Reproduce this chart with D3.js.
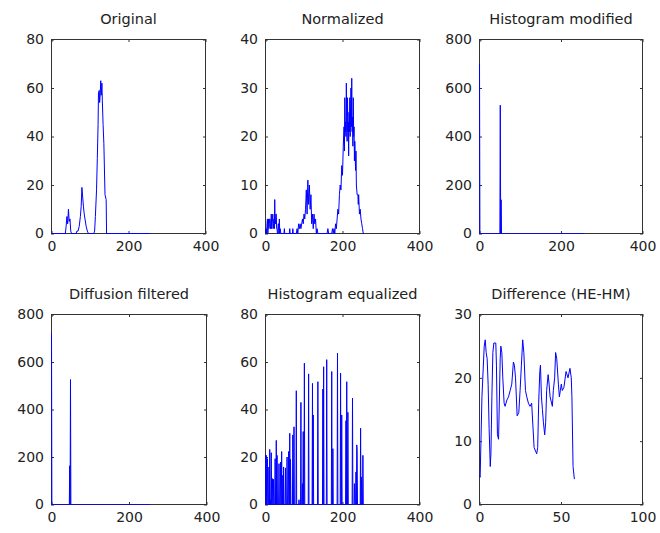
<!DOCTYPE html>
<html>
<head>
<meta charset="utf-8">
<script src="https://cdn.jsdelivr.net/npm/d3@7"></script>
<style>
  body { margin: 0; background: #fff; }
  .axis text { font-family: "DejaVu Sans", sans-serif; font-size: 14px; fill: #222; }
  .axis line { stroke: #333; }
  .title { font-family: "DejaVu Sans", sans-serif; font-size: 14.5px; fill: #222; }
</style>
</head>
<body>
<div id="chart"></div>
<script>
// values, [bin, count]
let originalPts = [[0,0],[36,0],[38,3],[40,7],[42,4],[44,10],[46,5],[48,6],[50,1],[52,0],[64,0],[66,1],[69,1],[72,3],[75,7],[77,11],[79,19],[81,15],[83,11],[85,8],[87,6],[90,3],[93,1],[96,0],
  [110,0],[112,1],[114,7],[117,18],[119,31],[121,45],[122,58],[124,59],[125,54],[126,56],[128,63],[129,57],[131,62],[132,55],[134,45],[136,37],[139,16],[142,14],[143,0],[255,0]];

let normalizedPts = [[0,0],[2,1],[3,0],[4,2],[5,3],[6,0],[7,1],[8,3],[9,1],[10,2],[11,3],[12,3],[13,1],[14,1],[15,4],[16,1],[17,2],[18,3],[19,4],[20,1],[21,2],[22,3],[23,1],[24,7],[25,2],[26,2],
  [27,4],[28,4],[29,1],[30,1],[31,0],[32,0],[33,2],[34,2],[35,0],[36,3],[37,0],[38,1],[40,0],
  [48,0],[49,1],[50,0],[62,0],[63,1],[64,0],[70,0],[71,1],[72,0],[80,0],[82,1],[84,0],[86,2],[88,1],[90,2],[92,1],[94,2],[96,3],[98,2],[100,4],[102,3],[104,5],[106,9],[108,4],
  [110,11],[112,6],[114,10],[116,5],[118,8],[120,2],[122,4],[124,1],[126,4],[128,2],[130,3],[132,0],[134,1],[136,0],[160,0],[162,1],[164,0],[172,0],[174,1],[176,0],
  [178,1],[180,0],[182,2],[184,1],[186,3],[188,5],[190,4],[192,8],[194,10],[196,9],[198,14],[200,12],[202,18],[204,22],[205,17],[206,28],[207,21],[208,23],[209,20],[210,31],
  [211,22],[212,19],[213,28],[214,21],[215,23],[216,16],[217,25],[218,21],[219,28],[220,20],[222,30],[223,22],[224,32],[225,21],[226,24],[227,18],[228,28],[229,20],[230,22],
  [231,15],[232,19],[234,13],[235,17],[236,10],[238,8],[240,8],[241,6],[242,8],[244,4],[246,5],[248,3],[250,2],[252,1],[254,0],[255,0]];

// sparse histograms: only the non-zero bins, every other bin of 0..255 is zero
let modifiedBins = [[0,700],[51,529],[53,139]];
let diffusionBins = [[0,720],[47,163],[49,526]];
let equalizedBins = [[0,21],[2,20.7],[5,19.3],[9,15.8],[11,23.2],[13,2],[15,21.8],[18,10.9],[21,10.6],[25,19.3],[28,27],[30,20.7],[35,17.2],[39,17.9],[42,22.3],[45,12.3],[47,15.8],
  [52,15.4],[56,20],[60,22.3],[63,30],[65,19],[71,29.3],[72,2],[74,32.7],[80,47.9],[87,2],[92,43],[96,8.8],[98,30.7],[101,59.5],[112,55],[122,51],[124,37.7],[136,51.7],
  [149,48.6],[151,58],[159,61],[172,56],[175,23.5],[187,63.7],[195,55.3],[198,37.7],[209,35.3],[211,51.7],[214,38.8],[226,44.8],[231,8.8],[235,13.7],[237,25.1],[238,23.2],
  [247,32.1],[249,11.6],[253,20.7]];

let differencePts = [[0,4.6],[0.4,4.3],[1.5,17],[2.9,25],[3.5,26],[4.1,24],[4.7,23],[5.3,19],[5.9,12],[6.6,6],[7,8],[7.6,17],[8.2,24],[8.8,25.5],[10,25.5],[10.4,22],[11,11],[11.7,10.3],
  [12.7,23],[13.1,25],[13.7,24],[14.3,20],[15.1,16],[15.7,15.5],[16.8,16.5],[17.8,17],[18.8,18],[19.8,19],[20.8,22.5],[21.4,22],[22.1,20],[23.1,14],[24.1,14.5],[24.9,18],
  [25.7,22],[26.5,26],[27.2,24],[28.2,18],[29,17],[30,16],[31,15.5],[32,16],[33.5,9],[35.1,8],[35.7,9],[36.3,16],[37,21],[37.4,22],[38,17],[38.6,15],[39.2,13],[40,11],
  [40.6,13],[41.2,18],[42.1,20.5],[42.7,19],[43.3,17],[44.7,15.5],[45.3,18],[46.1,20],[46.7,24],[47.4,23],[48.4,19],[49,17],[49.6,18],[50.2,19],[50.8,18],[51.8,18.5],
  [53.1,21],[54.3,20],[55.5,21.5],[56.3,20],[56.7,17],[57.4,6],[58.2,4]];

let histTicks = [0, 200, 400];
let diffTicks = [0, 50, 100];

// expand a sparse list of bins into the full 256-bin histogram
let fullHist = function (bins) {
    let h = d3.range(256).map(function (i) { return [i, 0]; });
    bins.forEach(function (b) { h[b[0]][1] = b[1]; });
    return h;
};

let panels = [
    { title: "Original", data: originalPts, xMax: 400, xTicks: histTicks, yTicks: [0, 20, 40, 60, 80], box: [51, 39, 206, 234] },
    { title: "Normalized", data: normalizedPts, xMax: 400, xTicks: histTicks, yTicks: [0, 10, 20, 30, 40], box: [265, 39, 420, 234] },
    { title: "Histogram modified", data: fullHist(modifiedBins), xMax: 400, xTicks: histTicks, yTicks: [0, 200, 400, 600, 800], box: [479, 39, 643, 234] },
    { title: "Diffusion filtered", data: fullHist(diffusionBins), xMax: 400, xTicks: histTicks, yTicks: [0, 200, 400, 600, 800], box: [51, 314, 207, 505] },
    { title: "Histogram equalized", data: fullHist(equalizedBins), xMax: 400, xTicks: histTicks, yTicks: [0, 20, 40, 60, 80], box: [265, 314, 420, 505] },
    { title: "Difference (HE-HM)", data: differencePts, xMax: 100, xTicks: diffTicks, yTicks: [0, 10, 20, 30], box: [479, 314, 643, 505] }
];

let svg = d3.select("#chart")
    .append("svg")
    .attr("width", 660)
    .attr("height", 533);

panels.forEach(function (p, i) {
    let x0 = p.box[0], y0 = p.box[1], x1 = p.box[2], y1 = p.box[3];

    let xScale = d3.scaleLinear().domain([0, p.xMax]).range([x0 + 0.5, x1 - 0.5]);
    let yScale = d3.scaleLinear().domain([0, d3.max(p.yTicks)]).range([y1 - 0.5, y0 + 0.5]);

    let g = svg.append("g");

    g.append("clipPath")
        .attr("id", "clip" + i)
        .append("rect")
        .attr("x", x0 - 1).attr("y", y0 - 1)
        .attr("width", x1 - x0 + 2).attr("height", y1 - y0 + 2);

    // box first, the curve is drawn over it
    g.append("rect")
        .attr("x", x0 + 0.5).attr("y", y0 + 0.5)
        .attr("width", x1 - x0 - 1).attr("height", y1 - y0 - 1)
        .style("fill", "none")
        .style("stroke", "#333");

    // inward ticks on all four sides, like a boxed matlab axes
    let axes = [
        [d3.axisBottom(xScale).tickValues(p.xTicks).tickFormat(d3.format("d")), "translate(0," + y1 + ")", true],
        [d3.axisTop(xScale).tickValues(p.xTicks), "translate(0," + y0 + ")", false],
        [d3.axisLeft(yScale).tickValues(p.yTicks).tickFormat(d3.format("d")), "translate(" + x0 + ",0)", true],
        [d3.axisRight(yScale).tickValues(p.yTicks), "translate(" + x1 + ",0)", false]
    ];
    axes.forEach(function (a) {
        let ax = g.append("g")
            .attr("class", "axis")
            .attr("transform", a[1])
            .call(a[0].tickSize(-3).tickSizeOuter(0).tickPadding(7));
        ax.select(".domain").remove();
        if (!a[2]) ax.selectAll("text").remove();
    });

    let line = d3.line()
        .x(function (d) { return xScale(d[0]); })
        .y(function (d) { return yScale(d[1]); });

    g.append("path")
        .datum(p.data)
        .attr("d", line)
        .attr("clip-path", "url(#clip" + i + ")")
        .style("fill", "none")
        .style("stroke", "#0000ff")
        .style("stroke-width", 1);

    g.append("text")
        .attr("class", "title")
        .attr("x", (x0 + x1) / 2)
        .attr("y", y0 - 15)
        .attr("text-anchor", "middle")
        .text(p.title);
});
</script>
</body>
</html>
